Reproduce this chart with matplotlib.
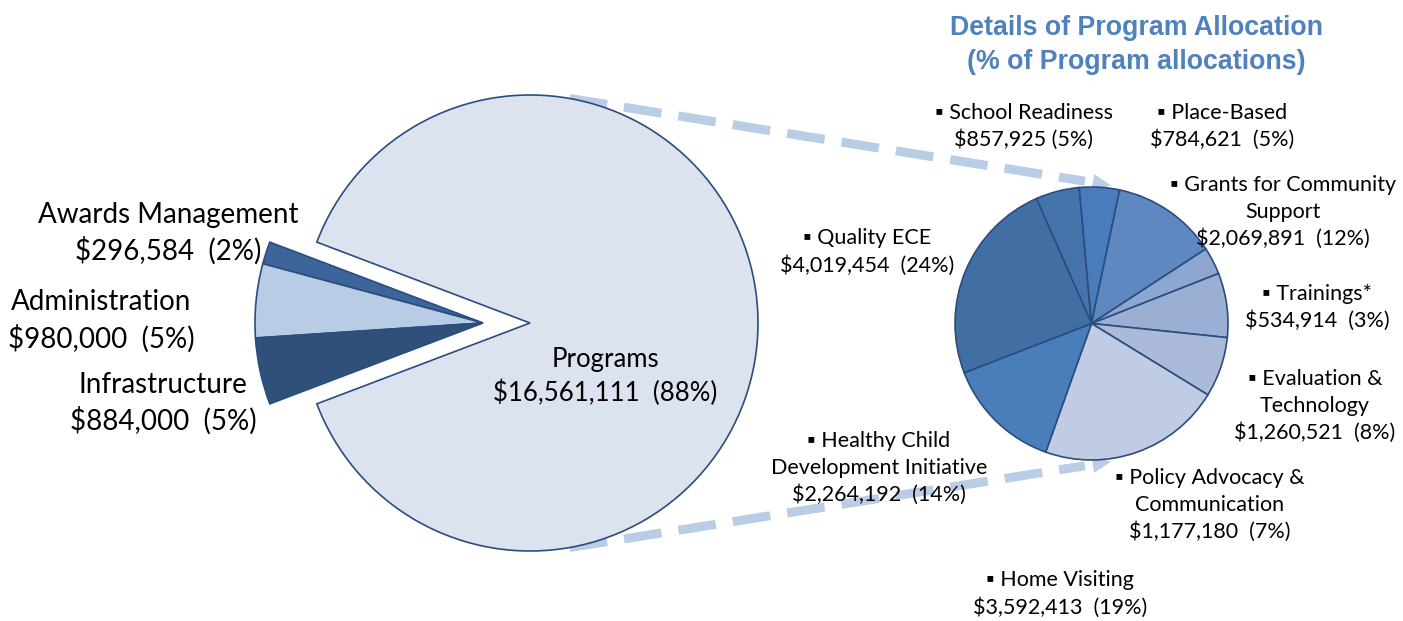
import matplotlib
matplotlib.use("Agg")
import matplotlib.pyplot as plt
import numpy as np

plt.rcParams['font.family'] = ['Lato', 'DejaVu Sans']

# main pie: total budget
main_labels = ["Programs", "Awards Management", "Administration", "Infrastructure"]
main_values = [16561111, 296584, 980000, 884000]
main_pcts = ["88%", "2%", "5%", "5%"]
main_colors = ["#DCE3EF", "#3D659B", "#B8CCE5", "#2F5179"]

# detail pie: program allocation
prog_labels = ["School Readiness", "Place-Based", "Grants for Community\nSupport",
               "Trainings*", "Evaluation &\nTechnology", "Policy Advocacy &\nCommunication",
               "Home Visiting", "Healthy Child\nDevelopment Initiative", "Quality ECE"]
prog_values = [857925, 784621, 2069891, 534914, 1260521, 1177180, 3592413, 2264192, 4019454]
prog_pcts = ["5%", "5%", "12%", "3%", "8%", "7%", "19%", "14%", "24%"]
prog_colors = ["#4573AB", "#4A7CBB", "#5F88C1", "#8EA7D0", "#9AAFD3",
               "#AABAD8", "#C0CCE3", "#4A7EBB", "#416EA3"]

W, H = 1403, 621
edge = "#2A4D80"
link = "#B9CDE5"

fig = plt.figure(figsize=(W / 100, H / 100), dpi=100)
ax = fig.add_axes([0, 0, 1, 1])

# big pie, gap facing left
c1 = (530, H - 323)
r1 = 228
shift = 47
prog_deg = main_values[0] / sum(main_values) * 360
w1, _ = ax.pie(main_values, center=c1, radius=r1, startangle=-prog_deg / 2,
               colors=main_colors, wedgeprops=dict(edgecolor=edge, linewidth=1.2))
for w in w1[1:]:
    w.set_center((c1[0] - shift, c1[1]))

# detail pie
c2 = (1091.5, H - 323.5)
r2 = 136.5
w2, _ = ax.pie(prog_values, center=c2, radius=r2, startangle=113.8, counterclock=False,
               colors=prog_colors, wedgeprops=dict(edgecolor=edge, linewidth=1.2))

# dashed connectors behind the pies
for a1, a2 in [(80, 82), (-80, -82)]:
    p1 = (c1[0] + r1 * np.cos(np.radians(a1)), c1[1] + r1 * np.sin(np.radians(a1)))
    p2 = (c2[0] + (r2 + 3) * np.cos(np.radians(a2)), c2[1] + (r2 + 3) * np.sin(np.radians(a2)))
    pm = (p2[0] - 26, p1[1] + (p2[1] - p1[1]) * (p2[0] - 26 - p1[0]) / (p2[0] - p1[0]))
    ax.plot([p1[0], pm[0]], [p1[1], pm[1]], color=link, lw=6.5, dashes=(4.2, 1.9),
            solid_capstyle='butt', dash_capstyle='butt', zorder=0)
    ax.annotate("", xy=p2, xytext=pm, zorder=0,
                arrowprops=dict(arrowstyle="-|>,head_length=1.3,head_width=0.6",
                                color=link, lw=0.1, shrinkA=0, shrinkB=0))

def money(v):
    return "${:,}".format(v)

# left labels
big_pos = [(605, 377), (168, 233.5), (101, 321), (163, 403.5)]
for i, (x, y) in enumerate(big_pos):
    fs = 18.5 if i == 0 else 20
    ls = 1.35 if i == 0 else 1.38
    ax.text(x, H - y, main_labels[i] + "\n" + money(main_values[i]) + "  (" + main_pcts[i] + ")",
            ha="center", va="center", fontsize=fs, linespacing=ls, color="black")

# detail labels
det_pos = [(1024, 126.5), (1222, 126.5), (1283, 212), (1317, 307.5), (1315, 406),
           (1210, 505), (1060, 594), (879, 468), (867, 252)]
for i, (x, y) in enumerate(det_pos):
    sep = " (" if i == 0 else "  ("
    ax.text(x, H - y, "\u25aa " + prog_labels[i] + "\n" + money(prog_values[i]) + sep + prog_pcts[i] + ")",
            ha="center", va="center", fontsize=15.5, linespacing=1.41, color="black")

ax.text(1136, H - 45, "Details of Program Allocation\n(% of Program allocations)",
        ha="center", va="center", fontsize=19.3, fontweight="bold", color="#4F81BD",
        family="Liberation Sans", linespacing=1.38)

ax.set_xlim(0, W)
ax.set_ylim(0, H)
ax.set_aspect("equal")
ax.axis("off")
fig.savefig("out.png", dpi=100)
